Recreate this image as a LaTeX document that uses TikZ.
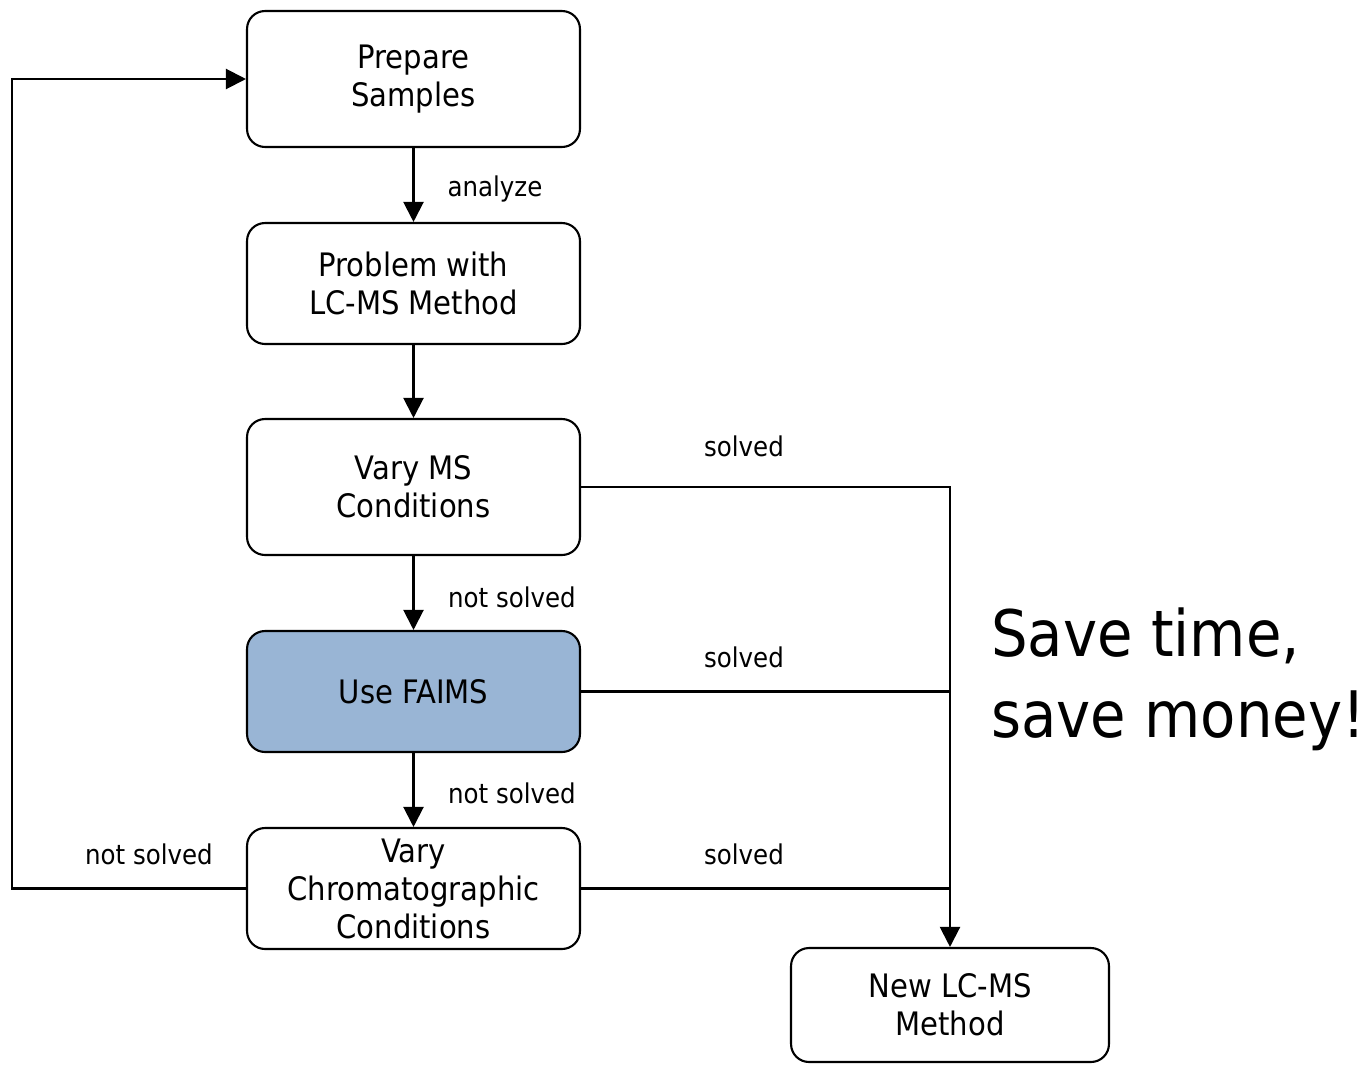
\documentclass[tikz,border=0pt]{standalone}
\usepackage{fontspec}
\setmainfont{DejaVu Sans Condensed}
\usetikzlibrary{arrows.meta}
\definecolor{faimsblue}{HTML}{99B5D5}
\tikzset{
    stepbox/.style={draw, line width=1.2pt, rounded corners=0.36cm, align=center,
        minimum width=6.66cm, inner sep=0pt, font=\fontsize{18.4}{21.6}\selectfont},
    flow/.style={line width=1.2pt, -{Triangle[length=0.4cm,width=0.4cm]}},
    link/.style={line width=1.2pt},
    lbl/.style={font=\fontsize{15.5}{18}\selectfont}
}
\begin{document}
\begin{tikzpicture}[x=0.02cm, y=-0.02cm]
            \useasboundingbox (0,0) rectangle (1368,1065);

            \node [stepbox, minimum height=2.72cm] (prep) at (413.5,79) {Prepare\\Samples};
            \node [stepbox, minimum height=2.42cm] (prob) at (413.5,283.5) {Problem with\\LC-MS Method};
            \node [stepbox, minimum height=2.72cm] (ms) at (413.5,487) {Vary MS\\Conditions};
            \node [stepbox, minimum height=2.42cm, fill=faimsblue] (faims) at (413.5,691.5) {Use FAIMS};
            \node [stepbox, minimum height=2.42cm] (chrom) at (413.5,888.5) {Vary\\Chromatographic\\Conditions};
            \node [stepbox, minimum width=6.36cm, minimum height=2.28cm] (new) at (950,1005) {New LC-MS\\Method};

            \coordinate (loop) at (12,0);

            \draw [flow] (prep) -- (prob);
            \draw [flow] (prob) -- (ms);
            \draw [flow] (ms) -- (faims);
            \draw [flow] (faims) -- (chrom);

            \draw [flow] (ms.east) -| (new.north);
            \draw [link] (faims.east) -- (faims.east -| new.north);
            \draw [link] (chrom.east) -- (chrom.east -| new.north);

            \draw [flow] (chrom.west) -- (chrom.west -| loop) |- (prep.west);

            \node [lbl] (analyze) at (495,189) {analyze};
            \node [lbl] (ns1) at (512,597) {not solved};
            \node [lbl] (ns2) at (512,793) {not solved};
            \node [lbl] (ns3) at (149,854) {not solved};
            \node [lbl] (s1) at (744,446) {solved};
            \node [lbl] (s2) at (744,657) {solved};
            \node [lbl] (s3) at (744,854) {solved};

            \node [anchor=west, align=left, inner sep=0pt,
                font=\fontsize{36.5}{46}\selectfont] (save) at (991,679) {Save time,\\save money!};
\end{tikzpicture}
\end{document}
